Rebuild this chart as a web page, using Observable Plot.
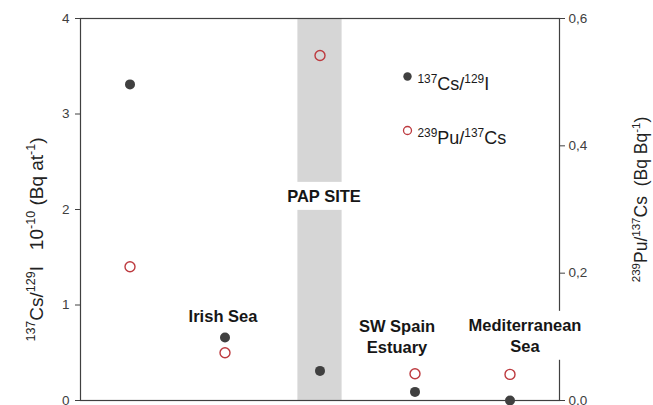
<!DOCTYPE html>
<html>
<head>
<meta charset="utf-8">
<script src="https://cdn.jsdelivr.net/npm/d3@7"></script>
<script src="https://cdn.jsdelivr.net/npm/@observablehq/plot@0.6"></script>
<style>
  html, body { margin: 0; padding: 0; background: #fff; }
  #chart { width: 653px; height: 405px; }
</style>
</head>
<body>
<div id="chart"></div>
<script>
// Sampling sites (x categories) and their labels; the first site carries no label.
const sites = [0, 1, 2, 3, 4];
const siteLabels = ["", "Irish Sea", "PAP SITE", "SW Spain\nEstuary", "Mediterranean\nSea"];

// 137Cs/129I ratios (×10^-10 Bq at^-1), left axis
const csI = [3.31, 0.66, 0.31, 0.09, 0.0];
// 239Pu/137Cs ratios (Bq Bq^-1), right axis
const puCs = [0.21, 0.075, 0.542, 0.042, 0.041];

// Axis ticks
const leftTicks = [0, 1, 2, 3, 4];
const rightTicks = [0, 0.2, 0.4, 0.6];
const leftMax = 4;
const rightMax = 0.6;

// The highlighted site (shaded band)
const highlightSite = 2;

// Text with {…} marks superscript runs
const leftTitle = "{137}Cs/{129}I\u00a0\u00a0 10{-10} (Bq at{-1})";
const rightTitle = "{239}Pu/{137}Cs\u00a0\u00a0(Bq Bq{-1})";
const legendCs = "{137}Cs/{129}I";
const legendPu = "{239}Pu/{137}Cs";

// ---- layout ----
const labelY = [null, 0.89, 2.15, 0.68, 0.69];
const labelDx = [0, -2, 4, -18, 15];

const toLeft = v => v * leftMax / rightMax;
const rows = sites.map(i => ({site: i, cs: csI[i], pu: toLeft(puCs[i])}));
const labelRows = sites.filter(i => siteLabels[i]).map(i => ({site: i, label: siteLabels[i], y: labelY[i], dx: labelDx[i]}));

const dark = "#404040";
const red = "#bd3a3f";
const font = "'Liberation Sans', Arial, sans-serif";

const chart = Plot.plot({
  width: 653,
  height: 405,
  marginLeft: 80,
  marginRight: 94,
  marginTop: 18,
  marginBottom: 5,
  style: {fontFamily: font, background: "#fff", overflow: "visible"},
  x: {type: "band", domain: sites, padding: 0, axis: null},
  y: {domain: [0, leftMax], axis: null},
  marks: [
    Plot.barY([highlightSite], {x: d => d, y1: 0, y2: leftMax, fill: "#d6d6d6", insetLeft: 25.4, insetRight: 25.4}),
    Plot.frame({stroke: dark, strokeWidth: 1.2}),
    Plot.axisY(leftTicks, {anchor: "left", tickSize: 5, tickPadding: 6, fontSize: 13.5, label: null, stroke: dark, fill: dark, tickFormat: d => String(d)}),
    Plot.axisY(rightTicks.map(toLeft), {
      anchor: "right", tickSize: 5, tickPadding: 4, fontSize: 13.5, label: null, stroke: dark, fill: dark,
      tickFormat: d => (d * rightMax / leftMax).toFixed(1).replace(".", ",")
    }),
    Plot.text([leftTitle], {text: d => d, frameAnchor: "left", textAnchor: "middle", dx: -44, dy: 30, rotate: -90, fontSize: 19, fill: "#222"}),
    Plot.text([rightTitle], {text: d => d, frameAnchor: "right", textAnchor: "middle", dx: 82, dy: -10, rotate: -90, fontSize: 17.5, fill: "#222"}),
    Plot.text(labelRows, {
      x: "site", y: "y", text: "label", fontSize: 16.5, fontWeight: "bold", fill: "#161616",
      lineHeight: 1.27, ariaDescription: "site labels"
    }),
    Plot.dot(rows, {x: "site", y: "pu", r: 5, stroke: red, strokeWidth: 1.4, fill: "none"}),
    Plot.dot(rows, {x: "site", y: "cs", r: 5, fill: dark, stroke: "none"}),
    // legend
    Plot.dot([legendCs], {frameAnchor: "top-left", dx: 327, dy: 58, r: 4.2, fill: dark}),
    Plot.dot([legendPu], {frameAnchor: "top-left", dx: 327, dy: 112, r: 4, stroke: red, strokeWidth: 1.3, fill: "none"}),
    Plot.text([legendCs], {text: d => d, frameAnchor: "top-left", textAnchor: "start", dx: 337, dy: 59, fontSize: 18, fill: "#1a1a1a"}),
    Plot.text([legendPu], {text: d => d, frameAnchor: "top-left", textAnchor: "start", dx: 337, dy: 113, fontSize: 18, fill: "#1a1a1a"})
  ]
});

document.getElementById("chart").appendChild(chart);

// Nudge the site labels horizontally and give each an opaque white box.
const labelGroup = d3.select(chart).select('g[aria-description="site labels"]');
labelGroup.selectAll("text").each(function(_, i) {
  const el = this;
  const t = el.getAttribute("transform") || "";
  el.setAttribute("transform", t + ` translate(${labelRows[i].dx},0)`);
  const b = el.getBBox();
  const rect = document.createElementNS("http://www.w3.org/2000/svg", "rect");
  rect.setAttribute("x", b.x - 4);
  rect.setAttribute("y", b.y - 5);
  rect.setAttribute("width", b.width + 8);
  rect.setAttribute("height", b.height + 10);
  rect.setAttribute("fill", "#fff");
  rect.setAttribute("stroke", "none");
  rect.setAttribute("transform", el.getAttribute("transform"));
  el.parentNode.insertBefore(rect, el);
});

// Render {…} runs as superscripts.
d3.select(chart).selectAll("text").each(function() {
  const el = this;
  const s = el.textContent;
  if (!s.includes("{") || el.querySelector("tspan")) return;
  const fs = parseFloat(getComputedStyle(el).fontSize);
  const shift = fs * 0.38;
  el.textContent = "";
  let up = false;
  for (const part of s.split(/(\{[^}]*\})/)) {
    if (!part) continue;
    const ts = document.createElementNS("http://www.w3.org/2000/svg", "tspan");
    if (part.startsWith("{")) {
      ts.textContent = part.slice(1, -1);
      ts.setAttribute("font-size", (fs * 0.66) + "px");
      if (!up) { ts.setAttribute("dy", -shift); up = true; }
    } else {
      ts.textContent = part;
      if (up) { ts.setAttribute("dy", shift); up = false; }
    }
    el.appendChild(ts);
  }
});
</script>
</body>
</html>
